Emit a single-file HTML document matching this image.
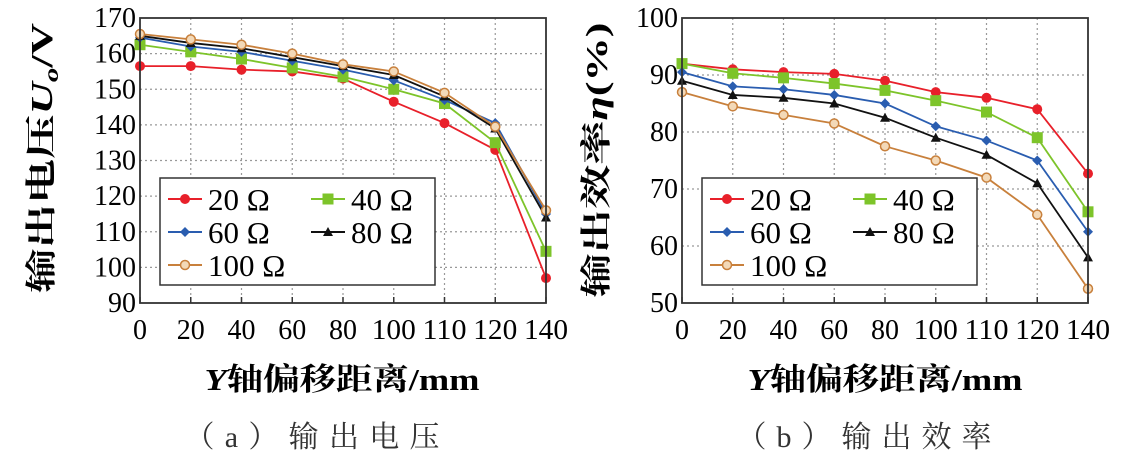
<!DOCTYPE html>
<html><head><meta charset="utf-8"><style>
html,body{margin:0;padding:0;background:#fff;}
svg{display:block;font-family:"Liberation Serif","Noto Serif CJK SC",serif;}
</style></head><body>
<svg id="chart" width="1129" height="474" viewBox="0 0 1129 474" xmlns="http://www.w3.org/2000/svg">
<g id="pa"></g>
<g id="pb"></g>
<text x="342" y="390" text-anchor="middle" font-size="31" font-weight="bold" textLength="275" lengthAdjust="spacingAndGlyphs"><tspan font-style="italic">Y</tspan>轴偏移距离/mm</text>
<text x="885" y="390" text-anchor="middle" font-size="31" font-weight="bold" textLength="275" lengthAdjust="spacingAndGlyphs"><tspan font-style="italic">Y</tspan>轴偏移距离/mm</text>
<text x="312" y="447" text-anchor="middle" font-size="30" fill="#333" textLength="255" lengthAdjust="spacing">（a）输出电压</text>
<text x="864" y="447" text-anchor="middle" font-size="30" fill="#333" textLength="255" lengthAdjust="spacing">（b）输出效率</text>
<text transform="translate(52,158) rotate(-90)" text-anchor="middle" font-size="31" font-weight="bold" textLength="270" lengthAdjust="spacingAndGlyphs">输出电压<tspan font-style="italic">U</tspan><tspan font-size="20" dy="6" font-style="italic">o</tspan><tspan dy="-6">/V</tspan></text>
<text transform="translate(607,160) rotate(-90)" text-anchor="middle" font-size="31" font-weight="bold" textLength="275" lengthAdjust="spacingAndGlyphs">输出效率<tspan font-style="italic">η</tspan>(%)</text>
</svg>
<script>
const categories=["0","20","40","60","80","100","110","120","140"];
const seriesNames=["20 Ω","40 Ω","60 Ω","80 Ω","100 Ω"];
const colors=["#e8202a","#7dc42a","#2a5db0","#111111","#c8803c"];
const markers=["circle","square","diamond","triangle","ring"];
const voltage20=[156.5,156.5,155.5,155,153,146.5,140.5,133,97];
const voltage40=[162.5,160.5,158.5,156,153.5,150,146,135,104.5];
const voltage60=[164.5,162,160.5,158,155.5,152.5,147,140.5,115];
const voltage80=[165,163,161.5,159,156.5,154,148,139,114];
const voltage100=[165.5,164,162.5,160,157,155,149,139.5,116];
const eff20=[92,91,90.5,90.2,89,87,86,84,72.7];
const eff40=[92,90.3,89.5,88.5,87.3,85.5,83.5,79,66];
const eff60=[90.5,88,87.5,86.5,85,81,78.5,75,62.5];
const eff80=[89,86.5,86,85,82.5,79,76,71,58];
const eff100=[87,84.5,83,81.5,77.5,75,72,65.5,52.5];
const ticksA=[90,100,110,120,130,140,150,160,170];
const ticksB=[50,60,70,80,90,100];
const NS="http://www.w3.org/2000/svg";
function mk(p,tag,at){const e=document.createElementNS(NS,tag);for(const k in at)e.setAttribute(k,at[k]);p.appendChild(e);return e;}
function marker(g,type,x,y,c){
  let e;
  if(type==="circle")e=mk(g,"circle",{cx:x,cy:y,r:5,fill:c});
  else if(type==="square")e=mk(g,"rect",{x:x-5.5,y:y-5.5,width:11,height:11,fill:c});
  else if(type==="diamond")e=mk(g,"polygon",{points:`${x},${y-5} ${x+5},${y} ${x},${y+5} ${x-5},${y}`,fill:c});
  else if(type==="triangle")e=mk(g,"polygon",{points:`${x},${y-5} ${x+5},${y+4} ${x-5},${y+4}`,fill:c});
  else e=mk(g,"circle",{cx:x,cy:y,r:4.5,fill:"#f3d9b8",stroke:c,"stroke-width":1.5});
  
  
}
function panel(g,L,R,T,B,ymin,ymax,ticks,data,legend){
  const xs=i=>L+(R-L)*i/(categories.length-1);
  const ys=v=>B-(B-T)*(v-ymin)/(ymax-ymin);
  for(let i=1;i<categories.length-1;i++){const l=mk(g,"line",{x1:xs(i),x2:xs(i),y1:T,y2:B,stroke:"#999","stroke-dasharray":"2 3","stroke-width":1.2});}
  ticks.forEach(t=>{ if(t!==ymin&&t!==ymax){const l=mk(g,"line",{x1:L,x2:R,y1:ys(t),y2:ys(t),stroke:"#999","stroke-dasharray":"2 3","stroke-width":1.2});}
    const tx=mk(g,"text",{x:L-4,y:ys(t)+9,"text-anchor":"end","font-size":28});
    if(String(t).length>2){tx.setAttribute("textLength",42);tx.setAttribute("lengthAdjust","spacingAndGlyphs");}
    tx.textContent=t;});
  categories.forEach((c,i)=>{const tx=mk(g,"text",{x:xs(i),y:B+36,"text-anchor":"middle","font-size":28});
    if(c.length>2){tx.setAttribute("textLength",44);tx.setAttribute("lengthAdjust","spacingAndGlyphs");}
    tx.textContent=c;
    const tk=mk(g,"line",{x1:xs(i),x2:xs(i),y1:B,y2:B-6,stroke:"#333","stroke-width":1.5});});
  data.forEach((d,s)=>{const sg=mk(g,"g",{});
    const pl=mk(sg,"polyline",{points:d.map((v,i)=>xs(i)+","+ys(v)).join(" "),fill:"none",stroke:colors[s],"stroke-width":1.8});
    d.forEach((v,i)=>marker(sg,markers[s],xs(i),ys(v),colors[s]));});
  const fr=mk(g,"rect",{x:L,y:T,width:R-L,height:B-T,fill:"none",stroke:"#333","stroke-width":1.8});
  const lg=mk(g,"g",{});
  const lr=mk(lg,"rect",{x:legend[0],y:legend[1],width:275,height:107,fill:"#fff",stroke:"#333","stroke-width":1.5});
  const pos=[[0,0],[143,0],[0,1],[143,1],[0,2]];
  seriesNames.forEach((n,s)=>{const x=legend[0]+8+pos[s][0],y=legend[1]+21+pos[s][1]*33;
    const eg=mk(lg,"g",{});
    mk(eg,"line",{x1:x,x2:x+34,y1:y,y2:y,stroke:colors[s],"stroke-width":2});marker(eg,markers[s],x+17,y,colors[s]);
    const t=mk(eg,"text",{x:x+40,y:y+11,"font-size":31});t.textContent=n;});
}
panel(document.getElementById("pa"),140,546,18,303,90,170,ticksA,[voltage20,voltage40,voltage60,voltage80,voltage100],[160,178]);
panel(document.getElementById("pb"),682,1088,18,303,50,100,ticksB,[eff20,eff40,eff60,eff80,eff100],[702,178]);
</script>
</body></html>
